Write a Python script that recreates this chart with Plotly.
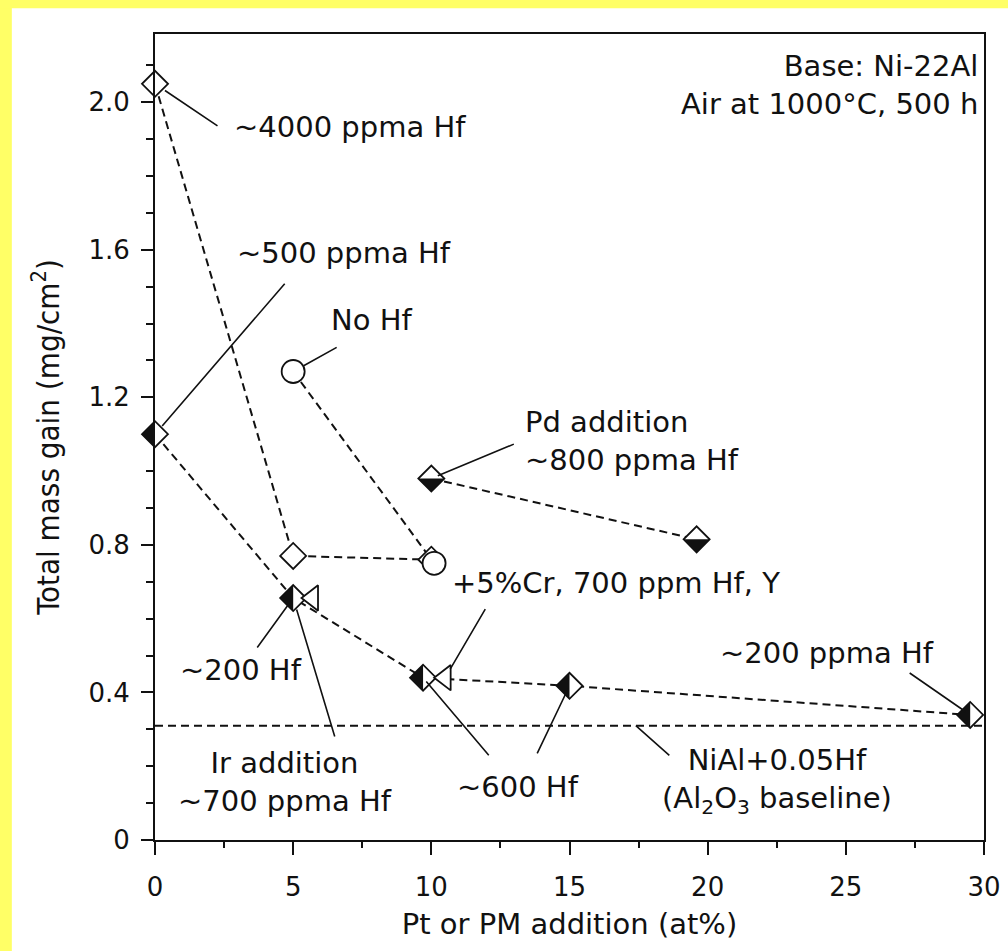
import plotly.graph_objects as go

# Ni-22Al base alloy, total mass gain after 500 h in air at 1000 C
hf_x = [0, 5, 10]            # open diamonds, ~4000 / ~500 ppma Hf
hf_y = [2.05, 0.77, 0.76]

nohf_x = [5, 10.1]           # open circles, no Hf
nohf_y = [1.27, 0.75]

pt_x = [0, 5, 9.7, 15, 29.5]  # left-half filled diamonds (Pt + Hf)
pt_y = [1.10, 0.656, 0.44, 0.418, 0.339]

cr_x = [5.7, 10.5]           # open left triangles, +5%Cr, 700 ppm Hf, Y
cr_y = [0.656, 0.44]

pd_x = [10, 19.6]            # bottom-half filled diamonds, Pd addition
pd_y = [0.98, 0.815]

base_x = [0, 30]             # NiAl+0.05Hf reference level
base_y = [0.31, 0.31]

x_ticks = [0, 5, 10, 15, 20, 25, 30]
y_ticks = [0, 0.4, 0.8, 1.2, 1.6, 2.0]
y_labels = ["0", "0.4", "0.8", "1.2", "1.6", "2.0"]

X_RANGE = [0, 30]
Y_RANGE = [0, 2.185]

FONT = "DejaVu Sans"
INK = "#111111"
DASH = "8px,5px"
FRAME = "#FFFF66"

fig = go.Figure()


def dashed(x, y):
    fig.add_trace(go.Scatter(x=x, y=y, mode="lines",
                             line=dict(color=INK, width=2, dash=DASH),
                             hoverinfo="skip", showlegend=False))


def markers(x, y, symbol, size):
    fig.add_trace(go.Scatter(x=x, y=y, mode="markers", cliponaxis=False,
                             marker=dict(symbol=symbol, size=size, color="white",
                                         line=dict(color=INK, width=1.8)),
                             showlegend=False))


dashed(base_x, base_y)
dashed(hf_x, hf_y)
dashed(nohf_x, nohf_y)
dashed(pt_x, pt_y)
dashed(pd_x, pd_y)

markers(hf_x, hf_y, "diamond", 20)
markers(nohf_x, nohf_y, "circle", 23)
markers(pt_x, pt_y, "diamond", 20)
markers(pd_x, pd_y, "diamond", 20)
markers(cr_x, cr_y, "triangle-left", 22)

# half-filled diamond glyphs (pixel-sized paths anchored on the data points)
R = 13
LEFT_HALF = f"M0,{R} L{-R},0 L0,{-R} Z"
BOTTOM_HALF = f"M{-R},0 L{R},0 L0,{-R} Z"


def half_fill(xs, ys, path):
    for xv, yv in zip(xs, ys):
        fig.add_shape(type="path", path=path,
                      xref="paper", yref="y",
                      xsizemode="pixel", ysizemode="pixel",
                      xanchor=(xv - X_RANGE[0]) / (X_RANGE[1] - X_RANGE[0]),
                      yanchor=yv,
                      fillcolor=INK, line=dict(width=0), layer="above")


half_fill(pt_x, pt_y, LEFT_HALF)
half_fill(pd_x, pd_y, BOTTOM_HALF)

# leader lines: (x, y, tail dx, tail dy, standoff)
leaders = [
    (hf_x[0], hf_y[0], 64, 43, 12),
    (pt_x[0], pt_y[0], 131, -152, 11),
    (nohf_x[0], nohf_y[0], 45, -25, 12),
    (pd_x[0], pd_y[0], 84, -35, 7),
    (cr_x[1], cr_y[1], 41, -70, 10),
    (pt_x[1], pt_y[1], -37, 51, 9),
    (pt_x[1], pt_y[1], 42, 140, 12),
    (pt_x[2], pt_y[2], 67, 79, 5),
    (pt_x[3], pt_y[3], -33, 69, 3),
    (pt_x[4], pt_y[4], -62, -43, 6),
    (17.4, base_y[0], 35, 31, 0),
]
for xv, yv, dx, dy, so in leaders:
    fig.add_annotation(x=xv, y=yv, ax=dx, ay=dy, text="", showarrow=True,
                       arrowhead=0, arrowwidth=1.6, arrowcolor=INK,
                       standoff=so)

# labels: (text, x, y, xanchor)
labels = [
    ("~4000 ppma Hf", 2.8, 1.932, "left"),
    ("~500 ppma Hf", 2.9, 1.591, "left"),
    ("No Hf", 6.3, 1.409, "left"),
    ("Pd addition<br>~800 ppma Hf", 13.3, 1.081, "left"),
    ("+5%Cr, 700 ppm Hf, Y", 10.69, 0.696, "left"),
    ("~200 Hf", 0.83, 0.461, "left"),
    ("Ir addition<br>~700 ppma Hf", 4.71, 0.157, "center"),
    ("~600 Hf", 10.87, 0.144, "left"),
    ("~200 ppma Hf", 20.36, 0.507, "left"),
    ("NiAl+0.05Hf<br>(Al<sub>2</sub>O<sub>3</sub> baseline)", 22.5, 0.16, "center"),
    ("Base: Ni-22Al<br>Air at 1000°C, 500 h", 29.85, 2.046, "right"),
]
for txt, xv, yv, anc in labels:
    fig.add_annotation(x=xv, y=yv, text=txt, showarrow=False,
                       xanchor=anc, yanchor="middle", align=anc,
                       font=dict(family=FONT, size=29, color=INK))

# scanned-page frame: yellow strips along the left and top edges
fig.add_shape(type="rect", xref="paper", yref="paper",
              x0=-0.3, x1=-0.1727, y0=-0.3, y1=1.3,
              fillcolor=FRAME, line=dict(width=0), layer="below")
fig.add_shape(type="rect", xref="paper", yref="paper",
              x0=-0.3, x1=1.3, y0=1.032, y1=1.3,
              fillcolor=FRAME, line=dict(width=0), layer="below")

axis_common = dict(showgrid=False, zeroline=False, showline=True, mirror=True,
                   linecolor=INK, linewidth=2, ticks="outside", tickcolor=INK,
                   tickwidth=2, tickfont=dict(family=FONT, size=26, color=INK))

fig.update_xaxes(range=X_RANGE, tickvals=x_ticks, ticklen=13,
                 ticklabelstandoff=10,
                 minor=dict(dtick=2.5, tick0=0, ticklen=6, tickwidth=2,
                            tickcolor=INK, ticks="outside", showgrid=False),
                 title=dict(text="Pt or PM addition (at%)", standoff=12,
                            font=dict(family=FONT, size=29, color=INK)),
                 **axis_common)
fig.update_yaxes(range=Y_RANGE, tickvals=y_ticks, ticktext=y_labels, ticklen=12,
                 ticklabelstandoff=6,
                 minor=dict(dtick=0.1, tick0=0, ticklen=7, tickwidth=2,
                            tickcolor=INK, ticks="outside", showgrid=False),
                 title=dict(text="Total mass gain (mg/cm<sup>2</sup>)", standoff=20,
                            font=dict(family="DejaVu Sans Condensed, Liberation Sans Narrow, Liberation Sans",
                                      size=31, color=INK)),
                 **axis_common)

fig.update_layout(width=1008, height=951,
                  margin=dict(l=155, r=24, t=34, b=111, autoexpand=False),
                  paper_bgcolor="white", plot_bgcolor="white",
                  showlegend=False)

fig.write_html("out.html")
